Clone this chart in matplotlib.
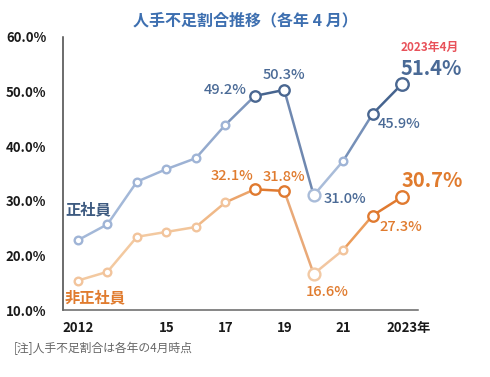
import matplotlib
matplotlib.use("Agg")
import matplotlib.pyplot as plt
from matplotlib.transforms import ScaledTranslation

plt.rcParams["font.family"] = ["Noto Sans CJK JP", "DejaVu Sans"]

# data
years = list(range(2012, 2024))
seishain = [22.8, 25.7, 33.5, 35.8, 37.8, 43.9, 49.2, 50.3, 31.0, 37.3, 45.9, 51.4]
hiseishain = [15.4, 17.0, 23.4, 24.3, 25.2, 29.7, 32.1, 31.8, 16.6, 21.0, 27.3, 30.7]
xticks = [2012, 2015, 2017, 2019, 2021, 2023]
xticklabels = ["2012", "15", "17", "19", "21", "2023年"]
yticks = [10, 20, 30, 40, 50, 60]

# styling per segment / point
blue_seg = ["#a3b8d8", "#a3b8d8", "#a0b5d6", "#9db2d4", "#94aacd", "#7d96bd",
            "#46648f", "#6f88b0", "#a9bcd9", "#7690b8", "#46648f"]
orange_seg = ["#f3c9a0", "#f3c9a0", "#f3c9a0", "#f2c59a", "#f0b988", "#eba46b",
              "#e07a30", "#e9a978", "#f2c6a0", "#eb9c5a", "#e07a30"]
blue_pt = ["#9fb4d6"] * 6 + ["#4a6791", "#4a6791", "#a9bcd9", "#9fb4d6", "#4a6791", "#4a6791"]
orange_pt = ["#f2c49c"] * 6 + ["#e07a30", "#e07a30", "#f2c9a4", "#f2c49c", "#e07a30", "#e07a30"]
pt_size = [5.5] * 6 + [7.5, 7.5, 8.5, 5.5, 7.5, 9]

BLUE_TXT = "#4a6a96"
ORANGE_TXT = "#e07b2e"

fig = plt.figure(figsize=(4.9, 3.77), dpi=100)
ax = fig.add_axes([0.1286, 0.1777, 0.853 - 0.1286, 0.902 - 0.1777])


def draw(vals, seg_cols, pt_cols):
    for i in range(len(vals) - 1):
        ax.plot(years[i:i + 2], vals[i:i + 2], color=seg_cols[i], lw=1.8,
                solid_capstyle="round", zorder=2)
    for i, v in enumerate(vals):
        ax.plot(years[i], v, "o", ms=pt_size[i], mfc="white", mec=pt_cols[i],
                mew=1.7, zorder=3)


draw(seishain, blue_seg, blue_pt)
draw(hiseishain, orange_seg, orange_pt)

ax.set_xlim(2011.49, 2023.54)
ax.set_ylim(10, 60)
ax.set_yticks(yticks)
ax.set_yticklabels(["{:.1f}%".format(v) for v in yticks], fontsize=9.5,
                   fontweight="bold", color="#1a1a1a")
ax.set_xticks(xticks)
ax.set_xticklabels(xticklabels, fontsize=9.5, fontweight="bold", color="#1a1a1a")
ax.tick_params(length=0)
ax.tick_params(axis="y", pad=12)
ax.tick_params(axis="x", pad=8)
last = ax.get_xticklabels()[-1]
last.set_transform(last.get_transform() + ScaledTranslation(0.07, 0, fig.dpi_scale_trans))

for s in ["top", "right"]:
    ax.spines[s].set_visible(False)
ax.spines["left"].set_color("#444444")
ax.spines["bottom"].set_color("#666666")
ax.spines["left"].set_linewidth(1.1)
ax.spines["bottom"].set_linewidth(1.1)


def lab(idx, vals, dx, dy, color, ha="center", size=10.5, weight="medium"):
    ax.annotate("{:.1f}%".format(vals[idx]), xy=(years[idx], vals[idx]),
                xytext=(dx, dy), textcoords="offset points", ha=ha, va="center",
                fontsize=size, color=color, fontweight=weight)


lab(6, seishain, -6, 4, BLUE_TXT, ha="right")
lab(7, seishain, 0, 11, BLUE_TXT)
lab(8, seishain, 7, -3, BLUE_TXT, ha="left")
lab(10, seishain, 4, -7, BLUE_TXT, ha="left")
lab(11, seishain, 21, 11, BLUE_TXT, size=14.5, weight="bold")

lab(6, hiseishain, -16.5, 9.4, ORANGE_TXT)
lab(7, hiseishain, 0, 10, ORANGE_TXT)
lab(8, hiseishain, 10, -13, ORANGE_TXT)
lab(10, hiseishain, 5, -8.6, ORANGE_TXT, ha="left")
lab(11, hiseishain, 21.6, 11.5, ORANGE_TXT, size=14.5, weight="bold")

ax.annotate("2023年4月", xy=(years[-1], seishain[-1]), xytext=(20, 26),
            textcoords="offset points", ha="center", va="center",
            fontsize=8.5, color="#e8525a", fontweight="bold")

ax.annotate("正社員", xy=(years[0], seishain[0]), xytext=(-9.4, 22),
            textcoords="offset points", ha="left", va="center",
            fontsize=11, color="#3d5a80", fontweight="bold")
ax.annotate("非正社員", xy=(years[0], hiseishain[0]), xytext=(-9.4, -12),
            textcoords="offset points", ha="left", va="center",
            fontsize=11, color=ORANGE_TXT, fontweight="bold")

fig.text(0.5, 1 - 20 / 377, "人手不足割合推移（各年 4 月）", ha="center", va="center",
         fontsize=11.5, color="#3d6fb0", fontweight="bold")
fig.text(14 / 490, 1 - 348 / 377, "[注]人手不足割合は各年の4月時点", ha="left",
         va="center", fontsize=8.5, color="#666666")

fig.savefig("out.png", dpi=100)
